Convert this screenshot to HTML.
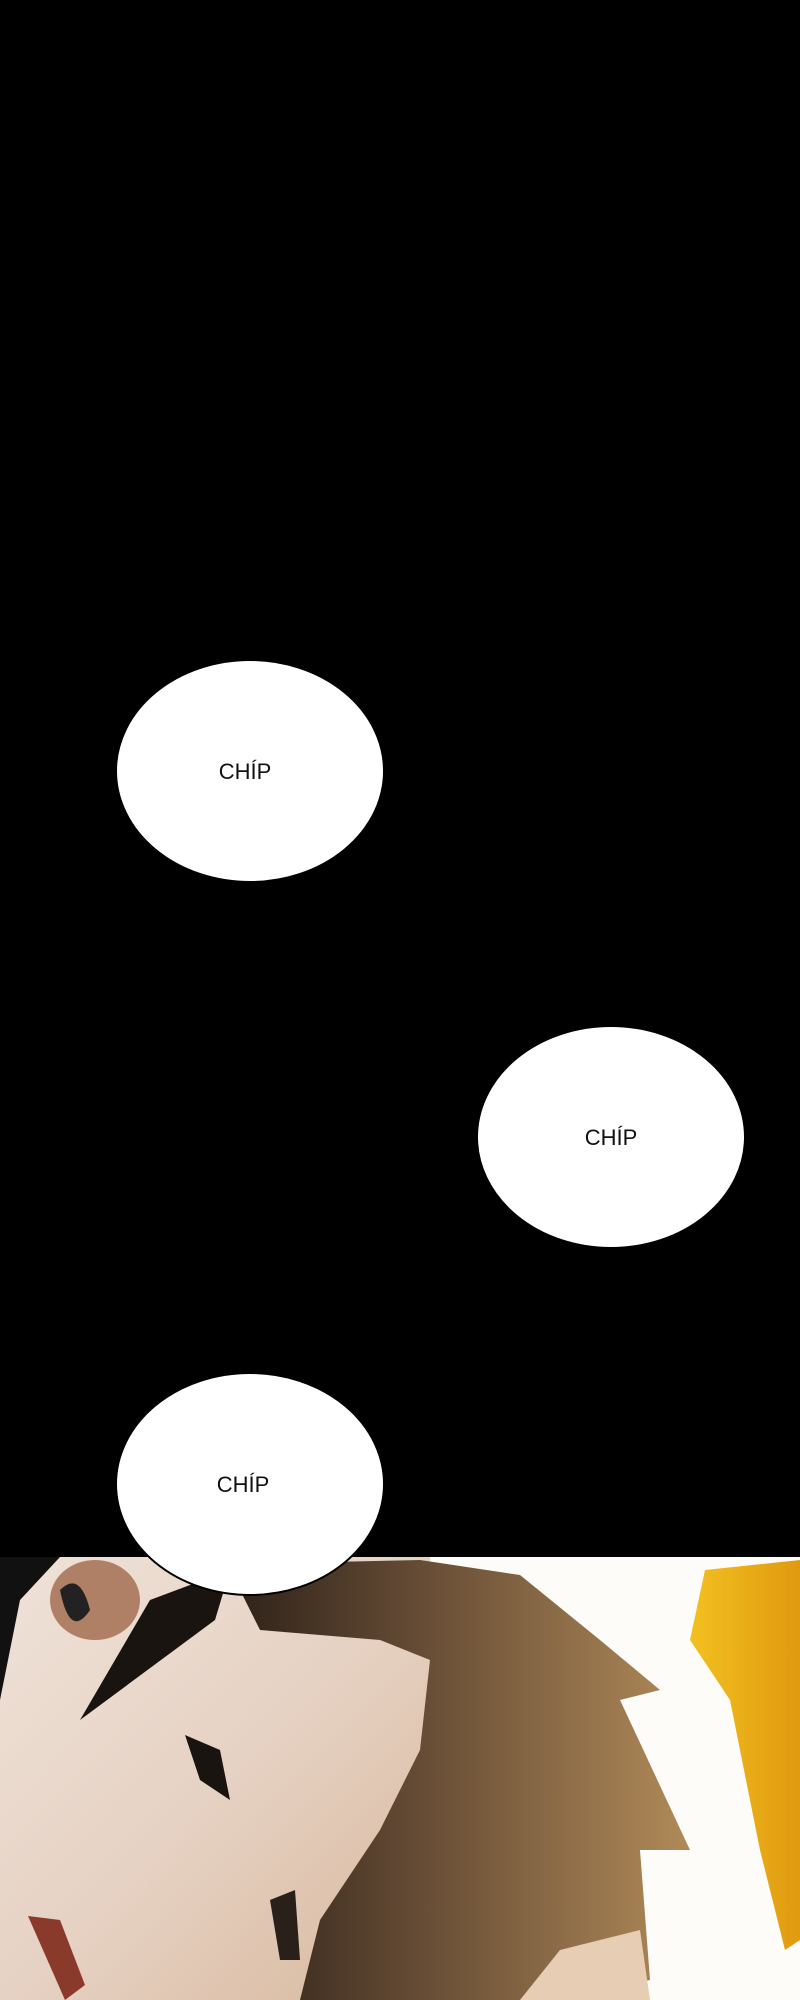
<!DOCTYPE html>
<html><head><style>
html,body{margin:0;padding:0;background:#000;}
svg{display:block}
</style></head><body>
<svg width="800" height="2000" viewBox="0 0 800 2000" xmlns="http://www.w3.org/2000/svg">
<defs>
<linearGradient id="skin" x1="0" y1="0" x2="1" y2="1">
<stop offset="0" stop-color="#efe2d8"/><stop offset="0.5" stop-color="#e6d2c4"/><stop offset="1" stop-color="#d8b89c"/>
</linearGradient>
<linearGradient id="hair" x1="0" y1="0" x2="1" y2="0">
<stop offset="0" stop-color="#2e2118"/><stop offset="0.45" stop-color="#6b5038"/><stop offset="1" stop-color="#b08a58"/>
</linearGradient>
<linearGradient id="yel" x1="0" y1="0" x2="1" y2="0">
<stop offset="0" stop-color="#f2c020"/><stop offset="1" stop-color="#e09a10"/>
</linearGradient>
</defs>
<rect width="800" height="2000" fill="#000"/>
<rect x="0" y="1557" width="800" height="443" fill="#fdfcf8"/>
<path d="M0 1557 L430 1557 L430 2000 L0 2000 Z" fill="url(#skin)"/>
<path d="M0 1557 L60 1557 L20 1600 L0 1700 Z" fill="#111"/>
<ellipse cx="95" cy="1600" rx="45" ry="40" fill="#b08066"/>
<path d="M60 1590 Q80 1570 90 1610 Q70 1640 60 1590Z" fill="#222"/>
<path d="M80 1720 L215 1620 L230 1570 L150 1600 Z" fill="#1a1410"/>
<path d="M230 1570 L330 1562 L420 1560 L520 1575 L600 1640 L660 1690 L620 1700 L690 1850 L640 1850 L650 1980 L560 2000 L300 2000 L320 1920 L380 1830 L420 1750 L430 1660 L380 1640 L260 1630 Z" fill="url(#hair)"/>
<path d="M560 1950 L640 1930 L650 2000 L520 2000 Z" fill="#e8cdb5"/>
<path d="M185 1735 L200 1780 L230 1800 L220 1750 Z" fill="#1a1410"/>
<path d="M270 1900 L295 1890 L300 1960 L280 1960 Z" fill="#2a201a"/>
<path d="M28 1916 L60 1920 L85 1985 L65 2000 Z" fill="#8a3a2a"/>
<path d="M705 1570 L800 1560 L800 1940 L785 1950 L760 1850 L730 1700 L690 1640 Z" fill="url(#yel)"/>
<g font-family="Liberation Sans, sans-serif" font-size="22" text-anchor="middle" fill="#111">
<ellipse cx="250" cy="771" rx="134" ry="111" fill="#fff" stroke="#000" stroke-width="2"/>
<text x="245" y="779">CHÍP</text>
<ellipse cx="611" cy="1137" rx="134" ry="111" fill="#fff" stroke="#000" stroke-width="2"/>
<text x="611" y="1145">CHÍP</text>
<ellipse cx="250" cy="1484" rx="134" ry="111" fill="#fff" stroke="#000" stroke-width="2"/>
<text x="243" y="1492">CHÍP</text>
</g>
</svg>
</body></html>
